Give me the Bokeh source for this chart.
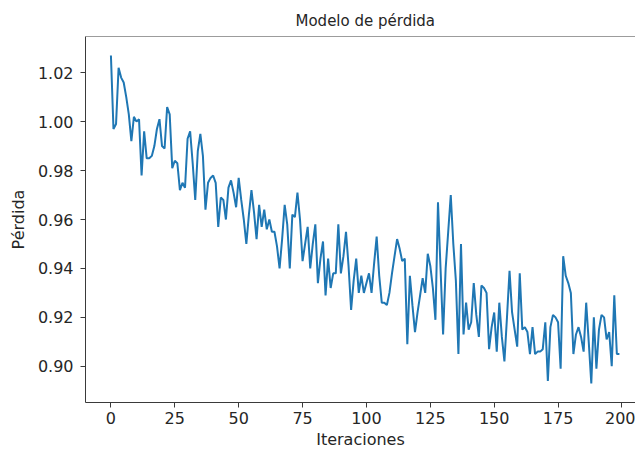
from bokeh.plotting import figure
from bokeh.models import Range1d, FixedTicker, PrintfTickFormatter, Span
from bokeh.embed import file_html
from bokeh.resources import INLINE

# Loss values per iteration
loss = [
    1.027, 0.997, 0.999, 1.022, 1.018, 1.016, 1.010, 1.003, 0.992, 1.002,
    1.000, 1.001, 0.978, 0.996, 0.985, 0.985, 0.986, 0.990, 0.997, 1.001,
    0.990, 0.989, 1.006, 1.003, 0.981, 0.984, 0.983, 0.972, 0.975, 0.973,
    0.993, 0.996, 0.983, 0.968, 0.988, 0.995, 0.986, 0.964, 0.975, 0.977,
    0.978, 0.975, 0.957, 0.969, 0.968, 0.960, 0.973, 0.976, 0.971, 0.965,
    0.977, 0.968, 0.960, 0.950, 0.962, 0.972, 0.963, 0.952, 0.966, 0.957,
    0.964, 0.956, 0.960, 0.955, 0.955, 0.949, 0.940, 0.952, 0.966, 0.958,
    0.940, 0.962, 0.961, 0.971, 0.960, 0.943, 0.950, 0.957, 0.940, 0.950,
    0.958, 0.934, 0.944, 0.951, 0.929, 0.944, 0.932, 0.938, 0.938, 0.958,
    0.938, 0.945, 0.955, 0.941, 0.923, 0.935, 0.944, 0.930, 0.937, 0.930,
    0.934, 0.938, 0.930, 0.942, 0.953, 0.937, 0.926, 0.926, 0.925, 0.930,
    0.938, 0.945, 0.952, 0.948, 0.943, 0.944, 0.909, 0.937, 0.925, 0.914,
    0.922, 0.929, 0.936, 0.930, 0.946, 0.941, 0.932, 0.919, 0.967, 0.940,
    0.913, 0.940, 0.955, 0.970, 0.950, 0.935, 0.905, 0.950, 0.913, 0.926,
    0.915, 0.918, 0.934, 0.921, 0.912, 0.933, 0.932, 0.930, 0.907, 0.916,
    0.922, 0.906, 0.926, 0.912, 0.902, 0.920, 0.939, 0.922, 0.915, 0.908,
    0.938, 0.915, 0.916, 0.914, 0.905, 0.916, 0.905, 0.906, 0.906, 0.907,
    0.918, 0.894, 0.916, 0.921, 0.920, 0.918, 0.899, 0.945, 0.937, 0.934,
    0.930, 0.905, 0.913, 0.916, 0.912, 0.906, 0.926, 0.910, 0.893, 0.920,
    0.899, 0.915, 0.921, 0.920, 0.911, 0.914, 0.900, 0.929, 0.905, 0.905,
]
iterations = list(range(len(loss)))

x_ticks = [0, 25, 50, 75, 100, 125, 150, 175, 200]
y_ticks = [0.90, 0.92, 0.94, 0.96, 0.98, 1.00, 1.02]

title_text = "Modelo de pérdida"
x_label = "Iteraciones"
y_label = "Pérdida"

FONT = "DejaVu Sans"
TXT = "#262626"
SPINE = "#3a3a3a"

y_top = 1.0348
p = figure(
    output_backend="svg", toolbar_location=None,
    frame_width=550, frame_height=366,
    min_border_left=85, min_border_right=0, min_border_top=36, min_border_bottom=50,
    x_range=Range1d(-9.95, 205.3), y_range=Range1d(0.8852, y_top),
    title=title_text,
)
p.line(iterations, loss, line_color="#1f77b4", line_width=2)

p.title.align = "left"
p.title.text_font = FONT
p.title.text_font_size = "15px"
p.title.text_font_style = "normal"
p.title.text_color = TXT
p.title.offset = 210
p.title.standoff = 13

p.outline_line_color = None
p.grid.visible = False
p.background_fill_color = "white"
p.border_fill_color = "white"
p.add_layout(Span(location=y_top, dimension="width", line_color=SPINE, line_width=1))

for ax in (p.xaxis[0], p.yaxis[0]):
    ax.axis_line_color = SPINE
    ax.axis_line_width = 1
    ax.major_tick_line_color = SPINE
    ax.major_tick_out = 5
    ax.major_tick_in = 0
    ax.minor_tick_line_color = None
    ax.major_label_text_font = FONT
    ax.major_label_text_font_size = "16px"
    ax.major_label_text_color = TXT
    ax.axis_label_text_font = FONT
    ax.axis_label_text_font_size = "16px"
    ax.axis_label_text_font_style = "normal"
    ax.axis_label_text_color = TXT

p.xaxis[0].ticker = FixedTicker(ticks=x_ticks)
p.yaxis[0].ticker = FixedTicker(ticks=y_ticks)
p.yaxis[0].formatter = PrintfTickFormatter(format="%.2f")
p.xaxis[0].axis_label = x_label
p.yaxis[0].axis_label = y_label
p.xaxis[0].major_label_standoff = 4
p.yaxis[0].major_label_standoff = 7
p.xaxis[0].axis_label_standoff = 3
p.yaxis[0].axis_label_standoff = 7

open("out.html", "w").write(file_html(p, INLINE))
